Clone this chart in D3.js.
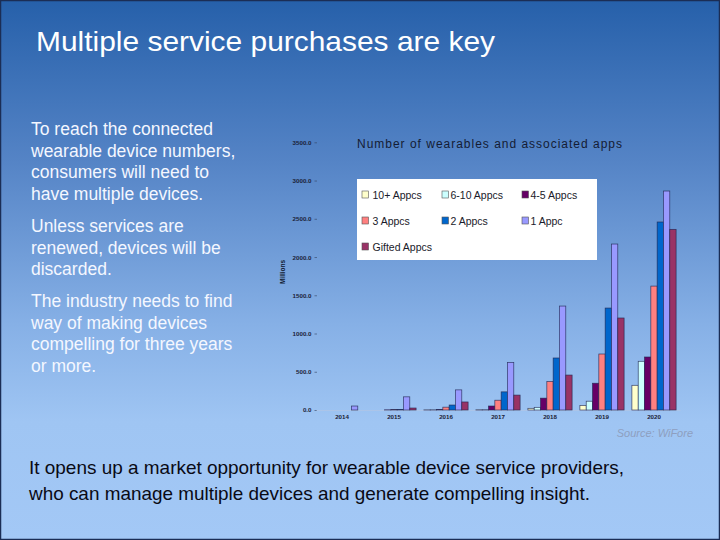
<!DOCTYPE html>
<html>
<head>
<meta charset="utf-8">
<script src="https://cdn.jsdelivr.net/npm/d3@7"></script>
<style>
  html, body { margin: 0; padding: 0; background: #fff; }
  svg { display: block; font-family: "Liberation Sans", Arial, sans-serif; }
</style>
</head>
<body>
<svg id="chart" width="720" height="540"></svg>
<script>
// ---- data ----
const years = ["2014", "2015", "2016", "2017", "2018", "2019", "2020"];
const seriesNames = ["10+ Appcs", "6-10 Appcs", "4-5 Appcs", "3 Appcs", "2 Appcs", "1 Appc", "Gifted Appcs"];
const seriesColors = ["#ffffcc", "#ccffff", "#660066", "#ff8080", "#0066cc", "#9999ff", "#993366"];
const apps10plus = [0, 0, 2, 3, 22, 60, 323];
const apps6to10  = [0, 0, 3, 4, 35, 115, 637];
const apps4to5   = [0, 2, 5, 52, 155, 350, 693];
const apps3      = [0, 6, 37, 128, 372, 732, 1620];
const apps2      = [0, 6, 65, 237, 680, 1333, 2458];
const apps1      = [52, 172, 263, 623, 1359, 2170, 2863];
const appsGifted = [0, 26, 105, 195, 457, 1203, 2362];
const yTicks = [0, 500, 1000, 1500, 2000, 2500, 3000, 3500];

const seriesValues = [apps10plus, apps6to10, apps4to5, apps3, apps2, apps1, appsGifted];

const titleText = "Multiple service purchases are key";
const leftParas = [
  ["To reach the connected", "wearable device numbers,", "consumers will need to", "have multiple devices."],
  ["Unless services are", "renewed, devices will be", "discarded."],
  ["The industry needs to find", "way of making devices", "compelling for three years", "or more."]
];
const bottomLines = [
  "It opens up a market opportunity for wearable device service providers,",
  "who can manage multiple devices and generate compelling insight."
];

// ---- drawing ----
const svg = d3.select("#chart");
const defs = svg.append("defs");
const grad = defs.append("linearGradient").attr("id", "bg").attr("x1", 0).attr("y1", 0).attr("x2", 0).attr("y2", 1);
[[0, "#2660aa"], [0.3, "#5584c6"], [0.6, "#86b0e6"], [0.78, "#9fc5f3"], [1, "#a3c8f6"]]
  .forEach(([o, c]) => grad.append("stop").attr("offset", o).attr("stop-color", c));

svg.append("rect").attr("width", 720).attr("height", 540).attr("fill", "url(#bg)");
svg.append("rect").attr("x", 0.5).attr("y", 0.5).attr("width", 719).attr("height", 539)
  .attr("fill", "none").attr("stroke", "#1b2d55").attr("stroke-width", 1.5);

// title
svg.append("text").attr("x", 36).attr("y", 51).attr("fill", "#ffffff")
  .attr("font-size", 28).attr("textLength", 459).attr("lengthAdjust", "spacingAndGlyphs").text(titleText);

// left paragraphs
const paraStarts = [135, 232, 307];
leftParas.forEach((lines, pi) => {
  lines.forEach((ln, li) => {
    svg.append("text").attr("x", 31).attr("y", paraStarts[pi] + li * 21.6)
      .attr("fill", "#f4f7ff").attr("font-size", 17.5).text(ln);
  });
});

// bottom text
const bottomWidths = [595, 561];
bottomLines.forEach((ln, i) => {
  svg.append("text").attr("x", 29).attr("y", 474 + i * 26)
    .attr("fill", "#0a0a14").attr("font-size", 18.5)
    .attr("textLength", bottomWidths[i]).attr("lengthAdjust", "spacingAndGlyphs").text(ln);
});

// source
svg.append("text").attr("x", 693).attr("y", 437).attr("text-anchor", "end")
  .attr("fill", "#8e9fbf").attr("font-size", 11).attr("font-style", "italic").text("Source:  WiFore");

// chart scales
const x0 = d3.scaleBand().domain(years).range([316, 680]).paddingInner(0.15).paddingOuter(0.075);
const x1 = d3.scaleBand().domain(seriesNames).range([0, x0.bandwidth()]);
const y = d3.scaleLinear().domain([0, 3500]).range([410, 142.3]);

// y axis
const yAxis = svg.append("g").attr("transform", "translate(317,0)")
  .call(d3.axisLeft(y).tickValues(yTicks).tickFormat(d3.format(".1f")).tickSize(2.5).tickPadding(3));
yAxis.select(".domain").remove();
yAxis.selectAll(".tick line").attr("stroke", "#33415e").attr("stroke-width", 0.6);
yAxis.selectAll(".tick text").attr("fill", "#1a2238").attr("font-size", 6.2).attr("font-weight", "bold")
  .attr("font-family", "\"Liberation Sans\", Arial, sans-serif");

// y title
svg.append("text").attr("transform", "translate(285,272) rotate(-90)").attr("text-anchor", "middle")
  .attr("fill", "#111a30").attr("font-size", 6.5).attr("font-weight", "bold").text("Millions");

// x axis
const xAxis = svg.append("g").attr("transform", "translate(0,410)")
  .call(d3.axisBottom(x0).tickSize(0).tickPadding(5));
xAxis.select(".domain").attr("stroke", "#b5c6e2").attr("stroke-width", 0.6);
xAxis.selectAll(".tick text").attr("fill", "#1a2238").attr("font-size", 6.2).attr("font-weight", "bold")
  .attr("font-family", "\"Liberation Sans\", Arial, sans-serif");

// bars
const groups = svg.append("g").selectAll("g").data(years).join("g")
  .attr("transform", d => `translate(${x0(d)},0)`);
groups.selectAll("rect").data((yr, yi) => seriesNames.map((s, si) => ({ s, si, v: seriesValues[si][yi] })))
  .join("rect")
  .attr("x", d => x1(d.s))
  .attr("width", x1.bandwidth())
  .attr("y", d => y(d.v))
  .attr("height", d => y(0) - y(d.v))
  .attr("fill", d => seriesColors[d.si])
  .attr("stroke", "#1f2550").attr("stroke-width", 0.7).attr("stroke-opacity", 0.85);

// chart title
svg.append("text").attr("x", 357).attr("y", 148).attr("fill", "#141c34")
  .attr("font-size", 12).attr("textLength", 265).attr("lengthAdjust", "spacing")
  .text("Number of wearables and associated apps");

// legend
svg.append("rect").attr("x", 357).attr("y", 179).attr("width", 240).attr("height", 81).attr("fill", "#ffffff");
const legendCols = [362, 442, 522];
const legendRows = [194.5, 220.5, 246.5];
seriesNames.forEach((s, i) => {
  const cx = legendCols[i % 3], cy = legendRows[Math.floor(i / 3)];
  svg.append("rect").attr("x", cx).attr("y", cy - 3.5).attr("width", 6.5).attr("height", 7)
    .attr("fill", seriesColors[i]).attr("stroke", "#555").attr("stroke-width", 0.6);
  svg.append("text").attr("x", cx + (i % 3 === 0 ? 10.5 : 8.5)).attr("y", cy + 4)
    .attr("fill", "#1a1a2a").attr("font-size", 10.5).text(s);
});
</script>
</body>
</html>
